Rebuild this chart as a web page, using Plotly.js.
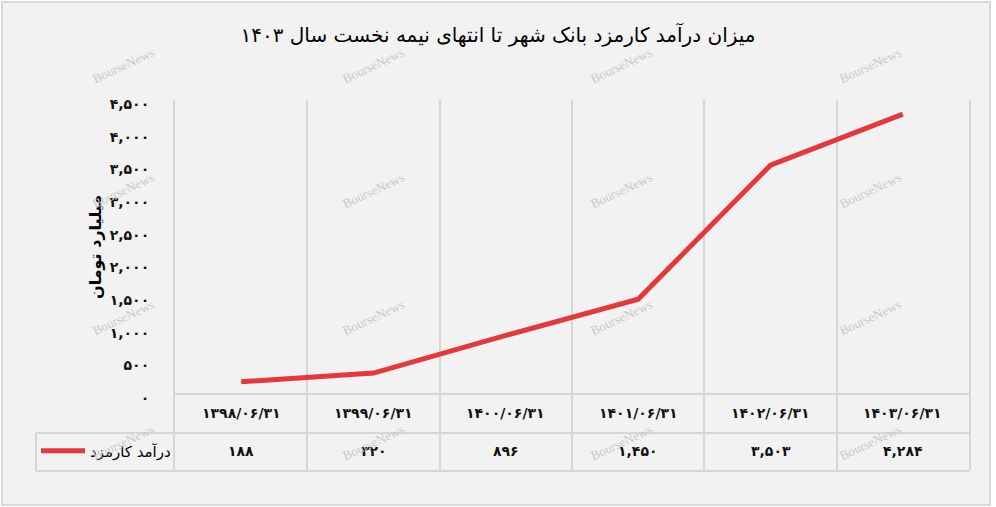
<!DOCTYPE html>
<html><head><meta charset="utf-8">
<script src="https://cdn.plot.ly/plotly-3.0.1.min.js"></script>
<style>
html,body{margin:0;padding:0;background:#fff;}
#frame{position:absolute;left:1px;top:1px;width:990px;height:505px;border:2px solid #d9d9d9;background:#f2f2f2;box-sizing:border-box;}
#chart{position:absolute;left:0;top:0;width:996px;height:507px;}
</style></head><body><div id="frame"></div><div id="chart"></div>
<script>
// ---- data ----
const categories = ['۱۳۹۸/۰۶/۳۱','۱۳۹۹/۰۶/۳۱','۱۴۰۰/۰۶/۳۱','۱۴۰۱/۰۶/۳۱','۱۴۰۲/۰۶/۳۱','۱۴۰۳/۰۶/۳۱'];
const feeIncome = [188, 320, 896, 1450, 3503, 4284];
const seriesName = 'درآمد کارمزد';
const yTickVals = [0, 500, 1000, 1500, 2000, 2500, 3000, 3500, 4000, 4500];
const chartTitle = 'میزان درآمد کارمزد بانک شهر تا انتهای نیمه نخست سال ۱۴۰۳';
const yTitle = 'میلیارد تومان';
const watermark = 'BourseNews';

// ---- helpers ----
const FA = '۰۱۲۳۴۵۶۷۸۹';
const toFa = n => n.toLocaleString('en-US').replace(/\d/g, d => FA[d]);

const W = 996, H = 507;
const L = 175, R = 969, T = 100, B = 471, ZERO = 394;
const px2x = px => (px - L) / (R - L);
const py2y = py => (B - py) / (B - T);
const yMax = 4500;
const yMin = -yMax * (B - ZERO) / (ZERO - T);

const FONT = 'DejaVu Sans, sans-serif';
const grid = '#d6d6d6';

const annotations = [];
categories.forEach((c, i) => {
  annotations.push({x: c, xref: 'x', y: py2y(413), yref: 'paper', text: c, showarrow: false,
    xanchor: 'center', yanchor: 'middle', font: {family: FONT, size: 14, color: '#111', weight: 'bold'}});
  annotations.push({x: c, xref: 'x', y: py2y(451), yref: 'paper', text: toFa(feeIncome[i]), showarrow: false,
    xanchor: 'center', yanchor: 'middle', font: {family: FONT, size: 14, color: '#111', weight: 'bold'}});
});
// y-axis title, centred on the 0–4500 value range
annotations.push({x: px2x(95), y: py2y((T + ZERO) / 2), xref: 'paper', yref: 'paper', text: yTitle,
  showarrow: false, textangle: -90, xanchor: 'center', yanchor: 'middle',
  font: {family: FONT, size: 16, color: '#000', weight: 'bold'}});
[123, 373, 621, 870].forEach(wx => [65, 190, 317, 442].forEach(wy => {
  annotations.push({x: px2x(wx), y: py2y(wy), xref: 'paper', yref: 'paper', text: watermark, showarrow: false,
    textangle: -25, xanchor: 'center', yanchor: 'middle',
    font: {family: 'Liberation Serif, serif', size: 13, color: '#c9c9c9'}});
}));

const lineStyle = {color: grid, width: 2};
const shapes = [
  {type: 'line', xref: 'paper', yref: 'paper', x0: px2x(36), x1: 1, y0: py2y(433), y1: py2y(433), line: lineStyle},
  {type: 'line', xref: 'paper', yref: 'paper', x0: px2x(36), x1: 1, y0: 0, y1: 0, line: lineStyle},
  {type: 'line', xref: 'paper', yref: 'paper', x0: px2x(36), x1: px2x(36), y0: 0, y1: py2y(433), line: lineStyle}
];

const trace = {
  x: categories, y: feeIncome, type: 'scatter', mode: 'lines', name: seriesName,
  line: {color: '#e5383d', width: 5}, hoverinfo: 'x+y'
};

const layout = {
  width: W, height: H,
  margin: {l: L, r: W - R, t: T, b: H - B, pad: 0},
  paper_bgcolor: 'rgba(0,0,0,0)', plot_bgcolor: 'rgba(0,0,0,0)',
  title: {text: chartTitle, x: 0.5, xref: 'container', xanchor: 'center',
    y: 1 - 35 / H, yref: 'container', yanchor: 'middle',
    font: {family: FONT, size: 20, color: '#000'}},
  xaxis: {type: 'category', range: [-0.5, categories.length - 0.5], showgrid: true, tickson: 'boundaries',
    gridcolor: grid, gridwidth: 2, showticklabels: false, ticks: '', zeroline: false, showline: false, fixedrange: true},
  yaxis: {range: [yMin, yMax], tickvals: yTickVals, ticktext: yTickVals.map(toFa), showgrid: false,
    zeroline: true, zerolinecolor: grid, zerolinewidth: 2,
    showline: true, mirror: true, linecolor: grid, linewidth: 2, ticks: '',
    ticklabelstandoff: 21, ticklabelshift: 4,
    tickfont: {family: FONT, size: 14, color: '#111', weight: 'bold'},
    fixedrange: true},
  showlegend: true,
  legend: {x: px2x(36), xanchor: 'left', y: py2y(451), yanchor: 'middle', bgcolor: 'rgba(0,0,0,0)',
    itemwidth: 44, font: {family: FONT, size: 15, color: '#000'}},
  annotations: annotations,
  shapes: shapes
};

Plotly.newPlot('chart', [trace], layout, {displayModeBar: false, staticPlot: true});
</script></body></html>
